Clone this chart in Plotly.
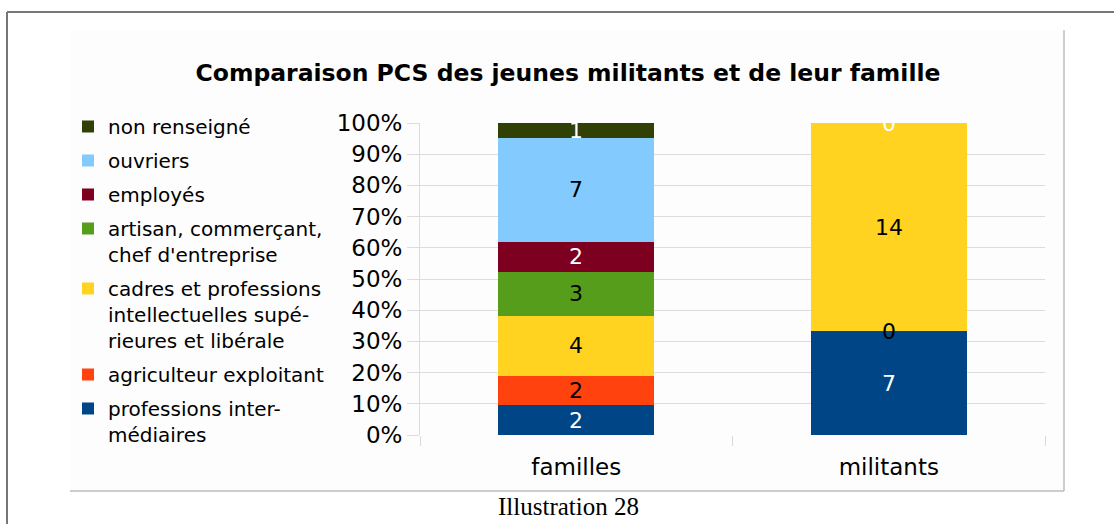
import plotly.graph_objects as go

# ---- data -------------------------------------------------------------
categories = ["familles", "militants"]

series_names = [
    "professions inter-<br>médiaires",
    "agriculteur exploitant",
    "cadres et professions<br>intellectuelles supé-<br>rieures et libérale",
    "artisan, commerçant,<br>chef d'entreprise",
    "employés",
    "ouvriers",
    "non renseigné",
]
familles = [2, 2, 4, 3, 2, 7, 1]
militants = [7, 0, 14, 0, 0, 0, 0]

colors = ["#004586", "#ff420e", "#ffd320", "#579d1c", "#7e0021", "#83caff", "#314004"]
label_colors = ["#ffffff", "#000000", "#000000", "#000000", "#ffffff", "#000000", "#ffffff"]

y_tick_values = [0, 10, 20, 30, 40, 50, 60, 70, 80, 90, 100]
y_tick_labels = [f"{v}%" for v in y_tick_values]

title_text = "Comparaison PCS des jeunes militants et de leur famille"
caption_text = "Illustration 28"

# ---- page geometry (pixels) -------------------------------------------
W, H = 1114, 524
L, R, T, B = 420, 69, 123, 89
PW, PH = W - L - R, H - T - B


def px_x(x):
    return (x - L) / PW


def px_y(y):
    return (H - B - y) / PH


SANS = "DejaVu Sans"

fig = go.Figure()

by_category = [familles, militants]
for i, name in enumerate(series_names):
    fig.add_trace(go.Bar(
        x=categories,
        y=[cat[i] for cat in by_category],
        name=name,
        legendgroup=f"g{i}",
        legendrank=len(series_names) - i,
        marker=dict(color=colors[i], line=dict(width=0)),
        hoverinfo="skip",
    ))

# value labels placed at the centre of each stacked segment
labels = {}
for c, cat in enumerate(by_category):
    total = sum(cat)
    base = 0.0
    for i, v in enumerate(cat):
        pct = v / total * 100
        mid = base + pct / 2
        labels[(c, round(mid, 3))] = (v, label_colors[i])
        base += pct

annotations = []
for (c, mid), (v, col) in labels.items():
    annotations.append(dict(
        x=categories[c], y=mid, xref="x", yref="y",
        text=str(v), showarrow=False,
        font=dict(family=SANS, size=22, color=col),
        xanchor="center", yanchor="middle",
    ))

annotations.append(dict(
    x=px_x(568), y=px_y(506), xref="paper", yref="paper",
    text=caption_text, showarrow=False,
    font=dict(family="Liberation Serif", size=25, color="#000000"),
    xanchor="center", yanchor="middle",
))

shapes = [
    # chart panel
    dict(type="rect", xref="paper", yref="paper",
         x0=px_x(70), x1=px_x(1064), y0=px_y(491), y1=px_y(30),
         fillcolor="#fdfdfd", line=dict(width=0), layer="below"),
    dict(type="line", xref="paper", yref="paper",
         x0=px_x(1064), x1=px_x(1064), y0=px_y(491), y1=px_y(30),
         line=dict(color="#bdbdbd", width=1.5), layer="below"),
    dict(type="line", xref="paper", yref="paper",
         x0=px_x(70), x1=px_x(1064), y0=px_y(491), y1=px_y(491),
         line=dict(color="#bdbdbd", width=1.5), layer="below"),
    # page frame
    dict(type="line", xref="paper", yref="paper",
         x0=px_x(7), x1=px_x(1120), y0=px_y(12), y1=px_y(12),
         line=dict(color="#777777", width=2), layer="below"),
    dict(type="line", xref="paper", yref="paper",
         x0=px_x(7), x1=px_x(7), y0=px_y(12), y1=px_y(530),
         line=dict(color="#777777", width=2), layer="below"),
]

fig.update_layout(
    width=W, height=H,
    margin=dict(l=L, r=R, t=T, b=B, autoexpand=False),
    paper_bgcolor="#ffffff",
    plot_bgcolor="rgba(0,0,0,0)",
    barmode="stack",
    barnorm="percent",
    bargap=0.5,
    title=dict(
        text=f"<b>{title_text}</b>",
        xref="paper", x=px_x(568), xanchor="center",
        yref="container", y=1 - 73 / H, yanchor="middle",
        font=dict(family=SANS, size=23.5, color="#000000"),
    ),
    xaxis=dict(
        showgrid=False, zeroline=False,
        ticks="outside", tickson="boundaries", ticklen=10,
        tickcolor="#d9d9d9", tickwidth=1,
        showline=False,
        tickfont=dict(family=SANS, size=23, color="#000000"),
        ticklabelstandoff=16,
    ),
    yaxis=dict(
        range=[0, 100],
        tickvals=y_tick_values, ticktext=y_tick_labels,
        showgrid=True, gridcolor="#dcdcdc", gridwidth=1,
        zeroline=False,
        showline=True, linecolor="#dcdcdc", linewidth=1,
        ticks="outside", ticklen=12, tickcolor="#dcdcdc", tickwidth=1,
        tickfont=dict(family=SANS, size=23, color="#000000"),
    ),
    legend=dict(
        x=px_x(68), xanchor="left",
        y=px_y(107), yanchor="top",
        maxheight=440,
        traceorder="grouped",
        tracegroupgap=5,
        valign="top",
        bgcolor="rgba(0,0,0,0)",
        font=dict(family=SANS, size=20, color="#000000"),
        itemclick=False, itemdoubleclick=False,
    ),
    annotations=annotations,
    shapes=shapes,
    showlegend=True,
)

fig.write_html("out.html")
